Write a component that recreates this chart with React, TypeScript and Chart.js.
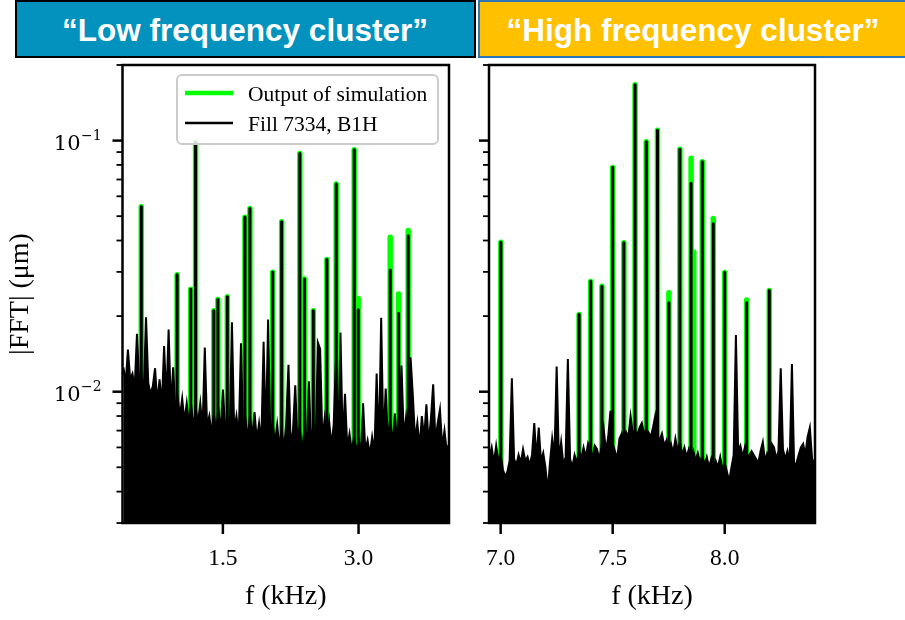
import React, { useEffect, useRef } from "react";
import { Chart, registerables } from "chart.js";

Chart.register(...registerables);

// ---------- shared axis values ----------
const Y_MIN = 0.003;
const Y_MAX = 0.2;
const Y_MAJOR = [0.01, 0.1];
const Y_MAJOR_EXP = ["\u22122", "\u22121"];
const Y_MINOR = [0.003, 0.004, 0.005, 0.006, 0.007, 0.008, 0.009, 0.02, 0.03, 0.04, 0.05, 0.06, 0.07, 0.08, 0.09, 0.2];

const LEGEND_SIM = "Output of simulation";
const LEGEND_MEAS = "Fill 7334, B1H";
const X_TITLE = "f (kHz)";
const Y_TITLE = "|FFT| (\u03bcm)";

// ---------- low frequency cluster ----------
const LOW_X_MIN = 0.39;
const LOW_X_MAX = 4.0;
const LOW_X_TICKS = [1.5, 3.0];
const LOW_X_TICK_LABELS = ["1.5", "3.0"];
const LOW_PEAK_FREQ = [0.598, 0.994, 1.145, 1.198, 1.4, 1.445, 1.549, 1.744, 1.799, 2.051, 2.15, 2.351, 2.402, 2.5, 2.65, 2.753, 2.952, 2.996, 3.35, 3.443, 3.549];
const LOW_SIM_AMP = [0.0545, 0.0292, 0.0256, 0.0985, 0.021, 0.0233, 0.0239, 0.0495, 0.0537, 0.0299, 0.0475, 0.0888, 0.0281, 0.021, 0.0336, 0.0672, 0.092, 0.0235, 0.0412, 0.0245, 0.0438];
const LOW_MEAS_AMP = [0.0545, 0.0292, 0.0256, 0.0985, 0.021, 0.0233, 0.0239, 0.0495, 0.0537, 0.0299, 0.0475, 0.0888, 0.0281, 0.021, 0.0336, 0.0672, 0.092, 0.0212, 0.0305, 0.0205, 0.0418];
const LOW_NOISE_START = 0.4;
const LOW_NOISE_STEP = 0.025;
const LOW_NOISE_AMP = [
  0.0125, 0.0108, 0.0147, 0.0112, 0.0118, 0.0104, 0.017, 0.011, 0.0115, 0.01,
  0.0198, 0.0108, 0.0098, 0.0105, 0.0124, 0.009, 0.0112, 0.0088, 0.0152, 0.0092,
  0.0177, 0.0086, 0.0125, 0.0084, 0.0095, 0.008, 0.0094, 0.0076, 0.009, 0.0074,
  0.0088, 0.0072, 0.0086, 0.0075, 0.009, 0.0071, 0.015, 0.0073, 0.008, 0.0068,
  0.0082, 0.007, 0.0085, 0.0069, 0.0102, 0.0072, 0.0079, 0.0068, 0.0189, 0.007,
  0.008, 0.0066, 0.0156, 0.0068, 0.0078, 0.0065, 0.008, 0.0066, 0.0083, 0.0064,
  0.0075, 0.0063, 0.0158, 0.0066, 0.0194, 0.0065, 0.0076, 0.0062, 0.0074, 0.006,
  0.0072, 0.0058, 0.0075, 0.0128, 0.0061, 0.007, 0.0106, 0.0062, 0.0073, 0.0057,
  0.0071, 0.006, 0.011, 0.0062, 0.0074, 0.0061, 0.0157, 0.0148, 0.0064, 0.0078,
  0.0063, 0.0076, 0.0061, 0.0074, 0.0134, 0.0062, 0.0172, 0.0063, 0.0098, 0.006,
  0.0068, 0.0058, 0.0066, 0.0057, 0.0065, 0.0056, 0.009, 0.0058, 0.0064, 0.0056,
  0.0066, 0.0057, 0.0118, 0.0059, 0.0197, 0.0062, 0.0103, 0.0063, 0.0078, 0.0061,
  0.0082, 0.0064, 0.0076, 0.0127, 0.0066, 0.0079, 0.0063, 0.0137, 0.0097, 0.0064,
  0.0075, 0.006, 0.008, 0.0065, 0.0089, 0.0062, 0.0078, 0.0107, 0.0064, 0.0075,
  0.0085, 0.006, 0.007, 0.0058, 0.0062,
];

// ---------- high frequency cluster ----------
const HIGH_X_MIN = 6.948;
const HIGH_X_MAX = 8.403;
const HIGH_X_TICKS = [7.0, 7.5, 8.0];
const HIGH_X_TICK_LABELS = ["7.0", "7.5", "8.0"];
const HIGH_PEAK_FREQ = [7.001, 7.35, 7.402, 7.452, 7.5, 7.55, 7.6, 7.65, 7.7, 7.751, 7.8, 7.85, 7.862, 7.9, 7.949, 8.0, 8.098, 8.199];
const HIGH_SIM_AMP = [0.0394, 0.0203, 0.0275, 0.0263, 0.0782, 0.0392, 0.167, 0.099, 0.11, 0.0248, 0.0924, 0.0851, 0.036, 0.0824, 0.0489, 0.0298, 0.0232, 0.0253];
const HIGH_MEAS_AMP = [0.0394, 0.0203, 0.0275, 0.0263, 0.0782, 0.0392, 0.167, 0.099, 0.11, 0.0226, 0.0924, 0.0676, null, 0.0824, 0.0467, 0.0298, 0.0226, 0.0253];
const HIGH_NOISE_START = 6.95;
const HIGH_NOISE_STEP = 0.01;
const HIGH_NOISE_AMP = [
  0.0055, 0.006, 0.0052, 0.0061, 0.0053, 0.0056, 0.0049, 0.0046, 0.0048, 0.0053,
  0.0113, 0.0054, 0.0051, 0.0056, 0.0052, 0.0059, 0.0053, 0.0055, 0.0051, 0.0056,
  0.0075, 0.0054, 0.0072, 0.0053, 0.0057, 0.005, 0.004, 0.0052, 0.0065, 0.0055,
  0.0126, 0.0053, 0.0063, 0.0051, 0.0055, 0.0135, 0.0054, 0.005, 0.0056, 0.0052,
  0.0058, 0.0054, 0.006, 0.0055, 0.0062, 0.0058, 0.0055, 0.0061, 0.0059, 0.0054,
  0.006, 0.0071, 0.0058, 0.0066, 0.0084, 0.0062, 0.0058, 0.0054, 0.0065, 0.0068,
  0.0063, 0.0069, 0.0066, 0.008, 0.0068, 0.007, 0.0067, 0.0072, 0.0075, 0.0068,
  0.0071, 0.0069, 0.0066, 0.0072, 0.008, 0.0067, 0.0064, 0.0068, 0.0061, 0.0064,
  0.0058, 0.0062, 0.0057, 0.0065, 0.0058, 0.0063, 0.0056, 0.006, 0.0055, 0.0059,
  0.0054, 0.0058, 0.0053, 0.0057, 0.0052, 0.0056, 0.0051, 0.0055, 0.005, 0.0054,
  0.0049, 0.0053, 0.005, 0.0055, 0.0049, 0.0052, 0.0048, 0.0044, 0.005, 0.0056,
  0.0168, 0.0058, 0.0061, 0.0055, 0.006, 0.0053, 0.0056, 0.0058, 0.0056, 0.0054,
  0.0052, 0.0058, 0.0063, 0.0053, 0.0057, 0.0055, 0.0062, 0.006, 0.0054, 0.0058,
  0.0124, 0.0059, 0.0054, 0.0058, 0.0052, 0.0129, 0.005, 0.0052, 0.0056, 0.006,
  0.0062, 0.0056, 0.0066, 0.0072, 0.0054, 0.0052,
];

// ---------- helpers ----------
type Pt = { x: number; y: number | null };

function stems(freqs: number[], amps: (number | null)[]): Pt[] {
  const pts: Pt[] = [];
  freqs.forEach((f, i) => {
    const v = amps[i];
    if (v == null) return;
    pts.push({ x: f, y: Y_MIN }, { x: f, y: v }, { x: f, y: null });
  });
  return pts;
}

function noise(start: number, step: number, amps: number[]): Pt[] {
  return amps.map((v, i) => ({ x: +(start + i * step).toFixed(4), y: v }));
}

const SERIF = '"Liberation Serif", "Times New Roman", serif';
const MATH = '"DejaVu Serif", serif';

function makeFramePlugin(cfg: {
  xTicks: number[];
  xTickLabels: string[];
  yLabels: boolean;
  legend: boolean;
}) {
  return {
    id: "frame",
    afterDraw(chart: any) {
      const { ctx, chartArea: a, scales } = chart;
      const xs = scales.x;
      const ys = scales.y;
      ctx.save();
      ctx.strokeStyle = "#000";
      ctx.fillStyle = "#000";
      const seg = (x1: number, y1: number, x2: number, y2: number, w: number) => {
        ctx.beginPath();
        ctx.lineWidth = w;
        ctx.moveTo(x1, y1);
        ctx.lineTo(x2, y2);
        ctx.stroke();
      };
      // y ticks
      Y_MINOR.forEach((v) => {
        const y = ys.getPixelForValue(v);
        if (y < a.top - 1 || y > a.bottom + 1) return;
        seg(a.left - 6, y, a.left, y, 1.8);
      });
      Y_MAJOR.forEach((v) => {
        const y = ys.getPixelForValue(v);
        seg(a.left - 10, y, a.left, y, 2.5);
      });
      // x ticks
      cfg.xTicks.forEach((v) => {
        const x = xs.getPixelForValue(v);
        seg(x, a.bottom, x, a.bottom + 11, 2.5);
      });
      // frame
      ctx.lineWidth = 2.5;
      ctx.strokeRect(a.left, a.top, a.right - a.left, a.bottom - a.top);

      // x tick labels
      ctx.font = `23.5px ${SERIF}`;
      ctx.textAlign = "center";
      ctx.textBaseline = "alphabetic";
      cfg.xTicks.forEach((v, i) => {
        const x = xs.getPixelForValue(v);
        ctx.fillText(cfg.xTickLabels[i], x, a.bottom + 42);
      });
      // x title
      ctx.font = `28px ${SERIF}`;
      ctx.fillText(X_TITLE, (a.left + a.right) / 2, a.bottom + 81);

      if (cfg.yLabels) {
        Y_MAJOR.forEach((v, i) => {
          const y = ys.getPixelForValue(v);
          const xr = a.left - 42;
          ctx.font = `21px ${MATH}`;
          ctx.textAlign = "right";
          ctx.fillText("10", xr, y + 9.5);
          ctx.font = `14px ${MATH}`;
          ctx.textAlign = "left";
          ctx.fillText(Y_MAJOR_EXP[i], xr + 0.5, y - 0.5);
        });
        ctx.save();
        ctx.translate(28, (a.top + a.bottom) / 2);
        ctx.rotate(-Math.PI / 2);
        ctx.font = `28px ${SERIF}`;
        ctx.textAlign = "center";
        ctx.textBaseline = "alphabetic";
        ctx.fillText(Y_TITLE, 0, 0);
        ctx.restore();
      }

      if (cfg.legend) {
        const w = 261;
        const h = 69;
        const bx = a.right - 11 - w;
        const by = a.top + 10;
        ctx.beginPath();
        ctx.roundRect(bx, by, w, h, 5);
        ctx.fillStyle = "rgba(255,255,255,0.85)";
        ctx.fill();
        ctx.lineWidth = 2;
        ctx.strokeStyle = "#cccccc";
        ctx.stroke();
        ctx.lineCap = "butt";
        ctx.strokeStyle = "#00ff00";
        seg(bx + 8, by + 18, bx + 56, by + 18, 4.5);
        ctx.strokeStyle = "#000";
        seg(bx + 8, by + 48, bx + 56, by + 48, 2.5);
        ctx.fillStyle = "#000";
        ctx.font = `21.5px ${SERIF}`;
        ctx.textAlign = "left";
        ctx.fillText(LEGEND_SIM, bx + 71, by + 25.5);
        ctx.fillText(LEGEND_MEAS, bx + 71, by + 55.5);
      }
      ctx.restore();
    },
  };
}

type PanelProps = {
  left: number;
  width: number;
  areaLeft: number;
  areaRight: number;
  xMin: number;
  xMax: number;
  xTicks: number[];
  xTickLabels: string[];
  peakFreq: number[];
  simAmp: number[];
  measAmp: (number | null)[];
  noiseStart: number;
  noiseStep: number;
  noiseAmp: number[];
  yLabels: boolean;
  legend: boolean;
};

const TOP = 58;
const HEIGHT = 562;
const AREA_TOP = 7;
const AREA_BOTTOM = 465;

function Panel(p: PanelProps) {
  const ref = useRef<HTMLCanvasElement | null>(null);
  useEffect(() => {
    if (!ref.current) return;
    const chart = new Chart(ref.current, {
      type: "line",
      data: {
        datasets: [
          {
            label: LEGEND_MEAS,
            data: stems(p.peakFreq, p.measAmp) as any,
            borderColor: "#000",
            borderWidth: 3,
            borderCapStyle: "round",
            pointRadius: 0,
            fill: false,
            spanGaps: false,
            order: 0,
          },
          {
            label: LEGEND_MEAS + " noise",
            data: noise(p.noiseStart, p.noiseStep, p.noiseAmp) as any,
            borderColor: "#000",
            backgroundColor: "#000",
            borderWidth: 2,
            pointRadius: 0,
            fill: "start",
            order: 1,
          },
          {
            label: LEGEND_SIM,
            data: stems(p.peakFreq, p.simAmp) as any,
            borderColor: "#00ff00",
            borderWidth: 5.5,
            borderCapStyle: "round",
            pointRadius: 0,
            fill: false,
            spanGaps: false,
            order: 2,
          },
        ],
      },
      options: {
        animation: false,
        responsive: false,
        events: [],
        layout: {
          padding: { top: AREA_TOP, right: p.width - p.areaRight, left: 0, bottom: 0 },
        },
        plugins: { legend: { display: false }, tooltip: { enabled: false } },
        elements: { line: { tension: 0 } },
        scales: {
          x: {
            type: "linear",
            min: p.xMin,
            max: p.xMax,
            offset: false,
            ticks: { display: false },
            grid: { display: false },
            border: { display: false },
            afterFit: (s: any) => {
              s.height = HEIGHT - AREA_BOTTOM;
            },
          },
          y: {
            type: "logarithmic",
            min: Y_MIN,
            max: Y_MAX,
            ticks: { display: false },
            grid: { display: false },
            border: { display: false },
            afterFit: (s: any) => {
              s.width = p.areaLeft;
            },
          },
        },
      },
      plugins: [
        makeFramePlugin({
          xTicks: p.xTicks,
          xTickLabels: p.xTickLabels,
          yLabels: p.yLabels,
          legend: p.legend,
        }),
      ],
    } as any);
    return () => chart.destroy();
  }, []);
  return (
    <canvas
      ref={ref}
      width={p.width}
      height={HEIGHT}
      style={{ position: "absolute", left: p.left, top: TOP, width: p.width, height: HEIGHT }}
    />
  );
}

const headerBase: React.CSSProperties = {
  position: "absolute",
  top: 0,
  height: 58,
  boxSizing: "border-box",
  display: "flex",
  alignItems: "center",
  justifyContent: "center",
  color: "#ffffff",
  font: 'bold 31.5px "Liberation Sans", Arial, sans-serif',
  paddingTop: 2,
  whiteSpace: "nowrap",
};

export default function App() {
  return (
    <div
      style={{
        position: "absolute",
        left: 0,
        top: 0,
        width: 905,
        height: 620,
        overflow: "hidden",
        background: "#fff",
      }}
    >
      <div
        style={{
          ...headerBase,
          left: 14.5,
          width: 461,
          background: "#0392BE",
          border: "2px solid #000",
        }}
      >
        {"\u201cLow frequency cluster\u201d"}
      </div>
      <div
        style={{
          ...headerBase,
          left: 478,
          width: 430,
          background: "#FFC000",
          border: "2px solid #2E75B6",
        }}
      >
        {"\u201cHigh frequency cluster\u201d"}
      </div>
      <Panel
        left={0}
        width={470}
        areaLeft={122.5}
        areaRight={449}
        xMin={LOW_X_MIN}
        xMax={LOW_X_MAX}
        xTicks={LOW_X_TICKS}
        xTickLabels={LOW_X_TICK_LABELS}
        peakFreq={LOW_PEAK_FREQ}
        simAmp={LOW_SIM_AMP}
        measAmp={LOW_MEAS_AMP}
        noiseStart={LOW_NOISE_START}
        noiseStep={LOW_NOISE_STEP}
        noiseAmp={LOW_NOISE_AMP}
        yLabels={true}
        legend={true}
      />
      <Panel
        left={470}
        width={435}
        areaLeft={19}
        areaRight={345}
        xMin={HIGH_X_MIN}
        xMax={HIGH_X_MAX}
        xTicks={HIGH_X_TICKS}
        xTickLabels={HIGH_X_TICK_LABELS}
        peakFreq={HIGH_PEAK_FREQ}
        simAmp={HIGH_SIM_AMP}
        measAmp={HIGH_MEAS_AMP}
        noiseStart={HIGH_NOISE_START}
        noiseStep={HIGH_NOISE_STEP}
        noiseAmp={HIGH_NOISE_AMP}
        yLabels={false}
        legend={false}
      />
    </div>
  );
}
